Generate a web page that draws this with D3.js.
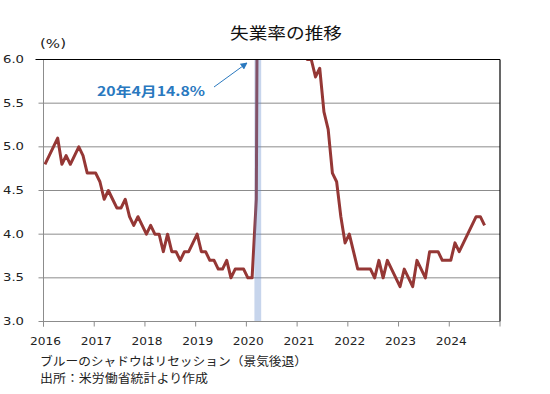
<!DOCTYPE html>
<html>
<head>
<meta charset="utf-8">
<script src="https://cdn.jsdelivr.net/npm/d3@7/dist/d3.min.js"></script>
<style>
  html, body { margin: 0; padding: 0; background: #fff; }
  svg { display: block; }
</style>
</head>
<body>
<div id="chart"></div>
<script>
// monthly US unemployment rate (%), Jan 2016 .. Sep 2024
const START_YEAR = 2016;
const rate2016 = [4.8, 4.9, 5.0, 5.1, 4.8, 4.9, 4.8, 4.9, 5.0, 4.9, 4.7, 4.7];
const rate2017 = [4.7, 4.6, 4.4, 4.5, 4.4, 4.3, 4.3, 4.4, 4.2, 4.1, 4.2, 4.1];
const rate2018 = [4.0, 4.1, 4.0, 4.0, 3.8, 4.0, 3.8, 3.8, 3.7, 3.8, 3.8, 3.9];
const rate2019 = [4.0, 3.8, 3.8, 3.7, 3.7, 3.6, 3.6, 3.7, 3.5, 3.6, 3.6, 3.6];
const rate2020 = [3.5, 3.5, 4.4, 14.8, 13.3, 11.1, 10.2, 8.4, 7.9, 6.9, 6.7, 6.7];
const rate2021 = [6.4, 6.2, 6.0, 6.0, 5.8, 5.9, 5.4, 5.2, 4.7, 4.6, 4.2, 3.9];
const rate2022 = [4.0, 3.8, 3.6, 3.6, 3.6, 3.6, 3.5, 3.7, 3.5, 3.7, 3.6, 3.5];
const rate2023 = [3.4, 3.6, 3.5, 3.4, 3.7, 3.6, 3.5, 3.8, 3.8, 3.8, 3.7, 3.7];
const rate2024 = [3.7, 3.9, 3.8, 3.9, 4.0, 4.1, 4.2, 4.2, 4.1];

const yearLabels = ["2016", "2017", "2018", "2019", "2020", "2021", "2022", "2023", "2024"];
const yTicks = [3.0, 3.5, 4.0, 4.5, 5.0, 5.5, 6.0];
// recession months (shaded), as "year-month"
const recession = { from: [2020, 2], to: [2020, 4] };

const TITLE = "失業率の推移";
const UNIT = "(%)";
const NOTE_PEAK = "20年4月14.8%";
const FOOT1 = "ブルーのシャドウはリセッション（景気後退）";
const FOOT2 = "出所：米労働省統計より作成";

const W = 550, H = 394;
const m = { top: 59.5, right: 50, bottom: 72.5, left: 43.5 };
const LINE_COLOR = "#953735";
const GRID = "#8c8c8c";
const BLUE = "#2a79bf";
const JP = "'Noto Sans CJK JP', 'Noto Sans', sans-serif";
const NUM = "'DejaVu Sans', Verdana, sans-serif";

const series = [rate2016, rate2017, rate2018, rate2019, rate2020,
  rate2021, rate2022, rate2023, rate2024]
  .flatMap((arr, yi) => arr.map((v, mi) => ({ t: yi * 12 + mi, v })));

const svg = d3.select("#chart").append("svg")
  .attr("width", W).attr("height", H);

const x = d3.scaleLinear()
  .domain([0, yearLabels.length * 12])
  .range([m.left, W - m.right]);
const y = d3.scaleLinear().domain([3, 6]).range([H - m.bottom, m.top]);
const POINT_OFF = 0.35; // where each month's point sits inside its slot

// clip for line
svg.append("defs").append("clipPath").attr("id", "plotclip")
  .append("rect")
  .attr("x", x.range()[0]).attr("y", y(6))
  .attr("width", x.range()[1] - x.range()[0])
  .attr("height", y(3) - y(6));

// grid lines (with left ticks)
svg.append("g").selectAll("line")
  .data(yTicks.filter(d => d > 3 && d < 6))
  .join("line")
  .attr("x1", x.range()[0] - 5).attr("x2", x.range()[1])
  .attr("y1", d => y(d)).attr("y2", d => y(d))
  .attr("stroke", GRID).attr("stroke-width", 1);

// line
const line = d3.line()
  .x(d => x(d.t + POINT_OFF))
  .y(d => y(d.v));

svg.append("path")
  .datum(series)
  .attr("clip-path", "url(#plotclip)")
  .attr("fill", "none")
  .attr("stroke", LINE_COLOR)
  .attr("stroke-width", 3)
  .attr("stroke-linejoin", "round")
  .attr("d", line);

// recession shading (on top, see-through)
const recA = (recession.from[0] - START_YEAR) * 12 + recession.from[1] - 1;
const recB = (recession.to[0] - START_YEAR) * 12 + recession.to[1] - 1;
svg.append("rect")
  .attr("x", x(recA + 0.9))
  .attr("y", y(6))
  .attr("width", x(recB + 0.5) - x(recA + 0.9))
  .attr("height", y(3) - y(6))
  .attr("fill", "rgb(95,135,200)")
  .attr("opacity", 0.35);

// frame: left + bottom axis in gray, top + right in black
svg.append("line")
  .attr("x1", x.range()[0]).attr("x2", x.range()[0])
  .attr("y1", y(6)).attr("y2", y(3) + 5)
  .attr("stroke", GRID);
svg.append("line")
  .attr("x1", x.range()[0] - 5).attr("x2", x.range()[1])
  .attr("y1", y(3)).attr("y2", y(3))
  .attr("stroke", GRID);
svg.append("line")
  .attr("x1", x.range()[0] - 8).attr("x2", x.range()[1])
  .attr("y1", y(6)).attr("y2", y(6))
  .attr("stroke", "#000").attr("stroke-width", 1.2);
svg.append("line")
  .attr("x1", x.range()[1]).attr("x2", x.range()[1])
  .attr("y1", y(6)).attr("y2", y(3))
  .attr("stroke", "#000").attr("stroke-width", 1.2);

// x ticks (year boundaries)
const xTickVals = d3.range(0, yearLabels.length + 1).map(i => i * 12);
svg.append("g").selectAll("line")
  .data(xTickVals)
  .join("line")
  .attr("x1", d => x(d)).attr("x2", d => x(d))
  .attr("y1", y(3)).attr("y2", y(3) + 5)
  .attr("stroke", GRID);

svg.append("g").selectAll("text")
  .data(yearLabels)
  .join("text")
  .attr("x", (d, i) => x(i * 12) + 2)
  .attr("y", 345)
  .attr("text-anchor", "middle")
  .attr("font-family", NUM)
  .attr("font-size", 11)
  .attr("textLength", 31)
  .attr("lengthAdjust", "spacingAndGlyphs")
  .attr("fill", "#222")
  .text(d => d);

// y labels
svg.append("g").selectAll("text")
  .data(yTicks)
  .join("text")
  .attr("x", 24)
  .attr("y", d => y(d) + 3.5)
  .attr("text-anchor", "end")
  .attr("font-family", NUM)
  .attr("font-size", 11)
  .attr("textLength", 21)
  .attr("lengthAdjust", "spacingAndGlyphs")
  .attr("fill", "#222")
  .text(d => d.toFixed(1));

// unit
svg.append("text")
  .attr("x", 40).attr("y", 48)
  .attr("font-family", NUM)
  .attr("font-size", 12)
  .attr("textLength", 26)
  .attr("lengthAdjust", "spacingAndGlyphs")
  .attr("fill", "#222")
  .text(UNIT);

// title
svg.append("text")
  .attr("x", 286).attr("y", 39)
  .attr("text-anchor", "middle")
  .attr("font-family", JP)
  .attr("font-size", 16)
  .attr("textLength", 112)
  .attr("lengthAdjust", "spacingAndGlyphs")
  .attr("fill", "#111")
  .text(TITLE);

// peak annotation
svg.append("defs").append("marker")
  .attr("id", "arrowhead")
  .attr("viewBox", "0 0 10 10")
  .attr("refX", 9).attr("refY", 5)
  .attr("markerWidth", 7).attr("markerHeight", 7)
  .attr("orient", "auto")
  .append("path")
  .attr("d", "M0,0 L10,5 L0,10 z")
  .attr("fill", BLUE);

svg.append("line")
  .attr("x1", 214).attr("y1", 87)
  .attr("x2", 247).attr("y2", 63)
  .attr("stroke", BLUE).attr("stroke-width", 1)
  .attr("marker-end", "url(#arrowhead)");

svg.append("text")
  .attr("x", 97).attr("y", 96)
  .attr("font-family", JP)
  .attr("font-weight", "bold")
  .attr("font-size", 13)
  .attr("textLength", 108)
  .attr("lengthAdjust", "spacingAndGlyphs")
  .attr("fill", BLUE)
  .text(NOTE_PEAK);

// footnotes
svg.append("text")
  .attr("x", 40).attr("y", 366)
  .attr("font-family", JP)
  .attr("font-size", 12)
  .attr("textLength", 267)
  .attr("lengthAdjust", "spacingAndGlyphs")
  .attr("fill", "#222")
  .text(FOOT1);

svg.append("text")
  .attr("x", 40).attr("y", 383)
  .attr("font-family", JP)
  .attr("font-size", 12)
  .attr("textLength", 168)
  .attr("lengthAdjust", "spacingAndGlyphs")
  .attr("fill", "#222")
  .text(FOOT2);
</script>
</body>
</html>
